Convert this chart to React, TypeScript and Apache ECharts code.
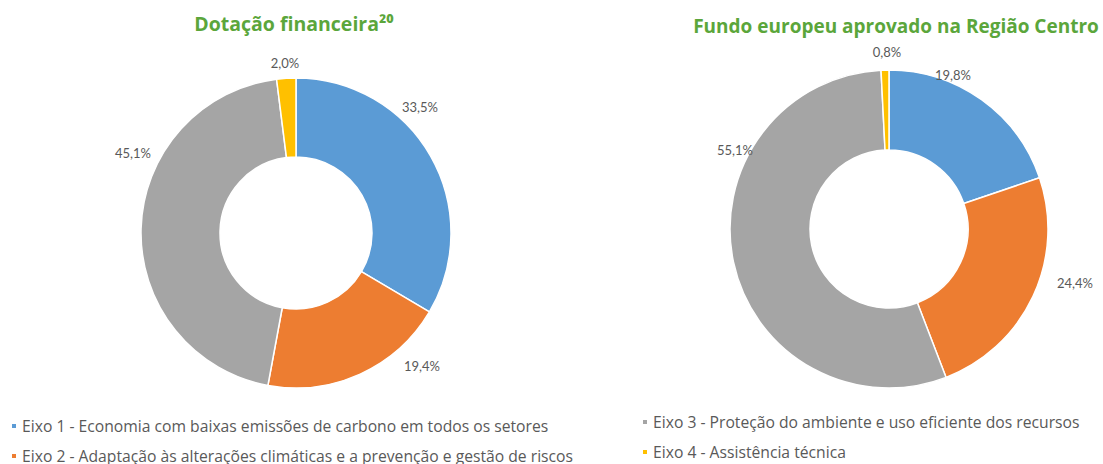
import React, { useEffect, useRef } from "react";
import * as echarts from "echarts";

const categories = [
  "Eixo 1 - Economia com baixas emissões de carbono em todos os setores",
  "Eixo 2 - Adaptação às alterações climáticas e a prevenção e gestão de riscos",
  "Eixo 3 - Proteção do ambiente e uso eficiente dos recursos",
  "Eixo 4 - Assistência técnica",
];
const dotacaoValues = [33.5, 19.4, 45.1, 2.0];
const fundoValues = [19.8, 24.4, 55.1, 0.8];
const titles = ["Dotação financeira²⁰", "Fundo europeu aprovado na Região Centro"];

const colors = ["#5B9BD5", "#ED7D31", "#A5A5A5", "#FFC000"];
const leftLabelPos = [[420, 107], [422, 366], [133, 153], [285, 63]];
const rightLabelPos = [[953, 75], [1075, 283], [735, 150], [887, 52]];
const legendPos = [[5, 413], [5, 443], [636, 409], [636, 439]];

const fmt = (v: number) => v.toFixed(1).replace(".", ",") + "%";

export default function App() {
  const ref = useRef<HTMLDivElement>(null);
  useEffect(() => {
    if (!ref.current) return;
    const chart = echarts.init(ref.current, null, { renderer: "svg" });
    const font = "'Open Sans', Lato, sans-serif";
    const mkSeries = (values: number[], center: [number, number], radius: [number, number], pos: number[][]) => ({
      type: "pie",
      center,
      radius,
      startAngle: 90,
      clockwise: true,
      avoidLabelOverlap: false,
      itemStyle: { borderColor: "#ffffff", borderWidth: 1.5 },
      label: {
        show: true,
        position: "outside",
        color: "#595959",
        fontSize: 13,
        fontFamily: "Lato, sans-serif",
        formatter: (p: any) => fmt(p.value),
      },
      labelLine: { show: false },
      labelLayout: (p: any) => ({
        x: pos[p.dataIndex][0],
        y: pos[p.dataIndex][1],
        align: "center",
        verticalAlign: "middle",
      }),
      emphasis: { disabled: true },
      data: values.map((v, i) => ({ name: categories[i], value: v, itemStyle: { color: colors[i] } })),
    });
    chart.setOption({
      animation: false,
      title: [
        {
          text: titles[0],
          left: 289,
          top: 8,
          textAlign: "center",
          textStyle: { color: "#5BA63B", fontSize: 19.5, fontWeight: "bold", fontFamily: font },
        },
        {
          text: titles[1],
          left: 891,
          top: 11,
          textAlign: "center",
          textStyle: { color: "#5BA63B", fontSize: 19, fontWeight: "bold", fontFamily: font },
        },
      ],
      legend: categories.map((c, i) => ({
        data: [c],
        left: legendPos[i][0],
        top: legendPos[i][1],
        icon: "rect",
        itemWidth: 6,
        itemHeight: 6,
        itemGap: 5,
        selectedMode: false,
        textStyle: { color: "#595959", fontSize: 15.7, fontFamily: font },
      })),
      series: [
        mkSeries(dotacaoValues, [296, 233], [76, 155], leftLabelPos),
        mkSeries(fundoValues, [889, 229], [79, 159], rightLabelPos),
      ],
    });
    return () => chart.dispose();
  }, []);
  return (
    <div
      ref={ref}
      style={{ position: "fixed", left: 0, top: 0, width: 1103, height: 464, background: "#fff" }}
    />
  );
}
